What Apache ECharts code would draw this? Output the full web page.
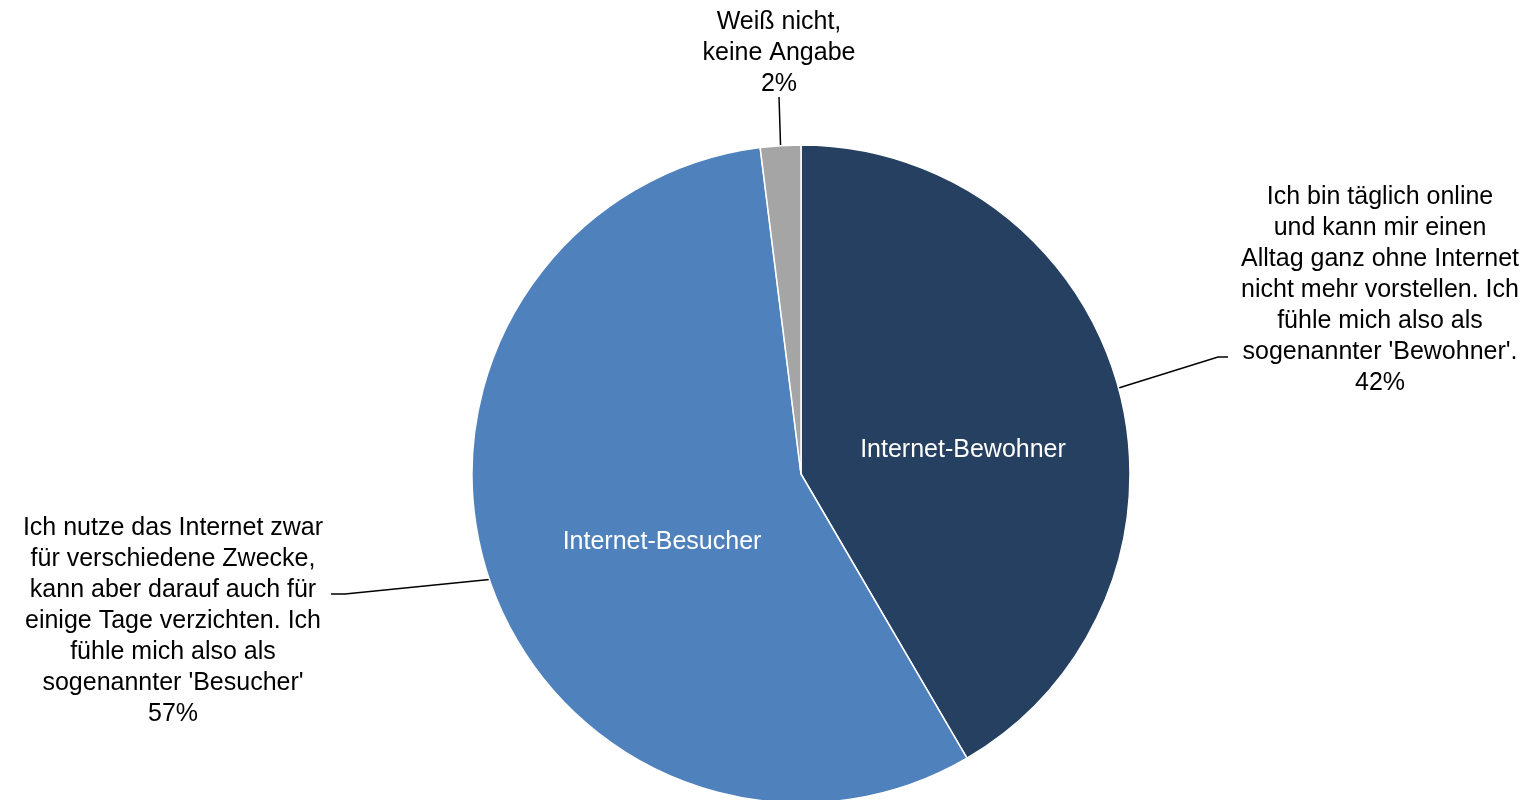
<!DOCTYPE html>
<html>
<head>
<meta charset="utf-8">
<script src="https://cdn.jsdelivr.net/npm/echarts@6/dist/echarts.min.js"></script>
<style>
  html, body { margin: 0; padding: 0; background: #ffffff; }
  #chart { width: 1534px; height: 800px; }
</style>
</head>
<body>
<div id="chart"></div>
<script>
// Umfrage: Selbstverständnis der Internetnutzung
const shortNames = ['Internet-Bewohner', 'Internet-Besucher', ''];
const longLabels = [
  ['Ich bin täglich online', 'und kann mir einen', 'Alltag ganz ohne Internet', 'nicht mehr vorstellen. Ich', 'fühle mich also als', "sogenannter 'Bewohner'."],
  ['Ich nutze das Internet zwar', 'für verschiedene Zwecke,', 'kann aber darauf auch für', 'einige Tage verzichten. Ich', 'fühle mich also als', "sogenannter 'Besucher'"],
  ['Weiß nicht,', 'keine Angabe']
];
const shares = [42, 57, 2];
const colors = ['#264061', '#4F81BD', '#A5A5A5'];

const CX = 801, CY = 474, R = 329;
const total = shares.reduce((a, b) => a + b, 0);

// mid angle of each slice, clockwise from 12 o'clock
function midPoint(i) {
  let before = 0;
  for (let k = 0; k < i; k++) before += shares[k];
  const a = (before + shares[i] / 2) / total * 2 * Math.PI;
  return [CX + R * Math.sin(a), CY - R * Math.cos(a)];
}

// text block centres and leader elbows for the outside labels
const outerPlacement = [
  { x: 1380, y: 290, elbow: [1218, 357], end: [1228, 357] },
  { x: 173, y: 621, elbow: [345, 594], end: [331, 594] },
  { x: 779, y: 53, elbow: [779, 97], end: [779, 97] }
];
const innerPlacement = [
  { x: 963, y: 450 },
  { x: 662, y: 542 }
];

const font = '"Liberation Sans", Arial, sans-serif';

const option = {
  animation: false,
  backgroundColor: '#ffffff',
  series: [
    {
      type: 'pie',
      center: [CX, CY],
      radius: [0, R],
      startAngle: 90,
      clockwise: true,
      avoidLabelOverlap: false,
      itemStyle: { borderColor: '#ffffff', borderWidth: 1.5 },
      emphasis: { disabled: true },
      label: {
        show: true,
        position: 'outside',
        fontFamily: font,
        fontSize: 25,
        lineHeight: 31,
        color: '#000000',
        align: 'center',
        formatter: p => longLabels[p.dataIndex].join('\n') + '\n' + p.value + '%'
      },
      labelLine: { show: true, lineStyle: { color: '#000000', width: 1.5 } },
      labelLayout: params => {
        const i = params.dataIndex;
        const pl = outerPlacement[i];
        return {
          x: pl.x,
          y: pl.y,
          align: 'center',
          verticalAlign: 'middle',
          labelLinePoints: [midPoint(i), pl.elbow, pl.end]
        };
      },
      data: shares.map((v, i) => ({ value: v, name: shortNames[i], itemStyle: { color: colors[i] } }))
    },
    {
      type: 'pie',
      center: [CX, CY],
      radius: [0, R],
      startAngle: 90,
      clockwise: true,
      silent: true,
      itemStyle: { color: 'transparent', borderWidth: 0 },
      label: {
        show: true,
        position: 'inside',
        fontFamily: font,
        fontSize: 25,
        color: '#ffffff',
        formatter: '{b}'
      },
      labelLine: { show: false },
      labelLayout: params => {
        const pl = innerPlacement[params.dataIndex];
        return pl ? { x: pl.x, y: pl.y, align: 'center', verticalAlign: 'middle' } : {};
      },
      data: shares.map((v, i) => ({ value: v, name: shortNames[i], label: { show: i < 2 } }))
    }
  ]
};

const chart = echarts.init(document.getElementById('chart'), null, { renderer: 'canvas' });
chart.setOption(option);
</script>
</body>
</html>
